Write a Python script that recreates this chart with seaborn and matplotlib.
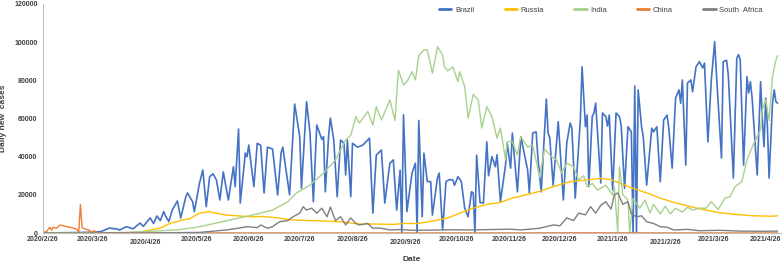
import matplotlib
matplotlib.use("Agg")
import matplotlib.pyplot as plt
import matplotlib.dates as mdates
from matplotlib.ticker import FuncFormatter
import seaborn as sns
import pandas as pd

START = "2020-02-26"

brazil_day = [0, 18, 28, 34, 39, 44, 45, 49, 53, 57, 59, 63, 65, 67, 69, 71, 72, 74, 76, 79,
              81, 84, 85, 88, 89, 92, 94, 96, 98, 100, 102, 104, 106, 109, 112, 113, 115, 116, 119, 120,
              121, 124, 126, 128, 130, 132, 135, 138, 140, 141, 145, 148, 151, 152, 155, 157, 159, 161, 164, 165,
              166, 168, 169, 171, 173, 175, 177, 178, 179, 181, 182, 185, 188, 192, 194, 196, 199, 201, 204, 206,
              208, 210, 211, 212, 214, 217, 219, 220, 221, 223, 224, 226, 228, 229, 232, 233, 235, 237, 239, 241,
              242, 244, 246, 248, 250, 252, 253, 254, 255, 257, 259, 261, 262, 264, 266, 267, 269, 272, 273, 275,
              276, 279, 281, 285, 286, 288, 290, 291, 293, 296, 297, 298, 300, 302, 303, 304, 306, 308, 310, 311,
              313, 316, 317, 319, 320, 321, 323, 324, 325, 328, 329, 331, 332, 333, 335, 337, 339, 340, 342, 344,
              346, 347, 348, 349, 350, 352, 353, 355, 358, 359, 361, 363, 365, 367, 368, 370, 372, 374, 375, 376,
              378, 379, 381, 382, 384, 386, 388, 389, 391, 393, 395, 396, 399, 400, 402, 403, 406, 408, 409, 410,
              412, 414, 415, 416, 417, 420, 422, 423, 424, 425, 426, 427, 429, 430, 431, 432]
brazil_cases = [0, 200, 400, 700, 2600, 2000, 1500, 3300, 2200, 5200, 3500, 7900, 5000, 8900, 6500, 11200, 9000, 6000, 12000, 16800,
                7900, 19000, 21000, 16400, 11200, 26000, 33000, 13800, 29500, 31000, 27800, 17300, 32000, 17300, 34700, 24300, 54500, 15700, 41900, 40000,
                46100, 24300, 47000, 46000, 21000, 45000, 44000, 19900, 41900, 45000, 20000, 67600, 50300, 23500, 68800, 52400, 16400, 56600, 49000, 50500,
                21600, 51300, 60200, 48700, 19000, 48700, 47000, 30400, 48700, 19000, 47000, 45000, 46000, 49700, 10400, 40800, 43500, 15700, 36600, 38300,
                12000, 33000, 0, 62000, 11200, 31400, 36600, 0, 59000, 8500, 41900, 27000, 26900, 9400, 29000, 31400, 1600, 27000, 28000, 27800,
                25000, 29500, 27000, 13000, 8500, 21600, 21000, 0, 40800, 16000, 15700, 47800, 30000, 40000, 34700, 41000, 16400, 35600, 47000, 34000,
                52400, 21600, 50500, 33000, 21000, 52400, 53000, 40000, 21600, 70200, 52400, 50000, 25100, 47000, 58300, 45000, 17300, 47000, 57600, 55000,
                18300, 59200, 87100, 55700, 61800, 24300, 61000, 63000, 68100, 26200, 62900, 61000, 56000, 61800, 22500, 62900, 61000, 56600, 23400, 55700,
                53000, 0, 77000, 0, 75000, 55700, 50500, 25100, 55000, 53000, 55700, 26900, 59200, 61800, 55000, 34000, 70700, 75000, 68000, 80200,
                35600, 78600, 80200, 74000, 87000, 89800, 86500, 89000, 47800, 80000, 100300, 83800, 39300, 89800, 90500, 82800, 28800, 91500, 93500, 90700,
                35600, 81900, 73400, 79300, 71000, 30400, 79300, 60000, 45200, 70700, 56000, 28800, 68100, 75000, 68800, 68000]

russia_day = [0, 50, 57, 69, 75, 79, 81, 86, 92, 98, 101, 107, 114, 122, 129, 138, 147, 157, 167, 176,
              186, 196, 206, 212, 220, 229, 238, 245, 253, 261, 269, 276, 281, 291, 300, 310, 320, 328, 334, 339,
              347, 355, 363, 371, 379, 388, 398, 408, 418, 428, 432]
russia_cases = [0, 0, 500, 2600, 5200, 5900, 6800, 7300, 10400, 11200, 10500, 9500, 9000, 8500, 8700, 7900, 6800, 6500, 6200, 5800,
                4700, 4700, 4500, 5000, 5000, 6200, 7900, 10400, 13000, 15000, 16000, 18300, 19300, 21600, 24300, 26900, 27800, 28600, 28000, 26200,
                23400, 21000, 18300, 16000, 14200, 12300, 10600, 9700, 9000, 8800, 9000]

india_day = [0, 40, 60, 79, 92, 110, 128, 131, 135, 144, 149, 157, 165, 172, 178, 181, 184, 186, 191, 194,
             196, 199, 204, 207, 209, 212, 214, 217, 219, 221, 224, 226, 229, 232, 235, 236, 238, 241, 244, 245,
             248, 250, 253, 256, 258, 261, 264, 267, 269, 272, 273, 276, 279, 281, 285, 288, 292, 295, 299, 302,
             305, 308, 312, 315, 318, 320, 323, 326, 331, 335, 336, 338, 339, 341, 344, 345, 347, 351, 354, 357,
             359, 363, 366, 369, 372, 376, 379, 382, 386, 390, 393, 397, 401, 404, 407, 411, 414, 418, 422, 423,
             425, 427, 429, 431, 432]
india_cases = [0, 0, 800, 1600, 3300, 6800, 10400, 11200, 12000, 16400, 21000, 25100, 31400, 38300, 48700, 51300, 61000, 57600, 63700, 56600,
               66200, 59200, 69700, 59000, 85400, 77600, 79300, 84500, 80200, 93000, 95900, 95900, 83800, 97600, 93300, 87100, 85000, 87000, 79300, 84500,
               76700, 60200, 72600, 69700, 55000, 66200, 61000, 49700, 55000, 38300, 47800, 48000, 40800, 50500, 45000, 46000, 29500, 44000, 40000, 38300,
               31400, 36600, 34700, 27800, 30000, 24300, 26000, 22500, 25000, 19900, 24000, 0, 34700, 20000, 17300, 0, 18000, 13000, 17300, 10600,
               15000, 10000, 14000, 10000, 13000, 11000, 13500, 12000, 13000, 13000, 16400, 12300, 18200, 19000, 24300, 27000, 38300, 47000, 54000, 64500,
               70000, 59000, 82000, 90700, 93000]

china_day = [0, 2, 4, 5, 6, 8, 10, 12, 14, 17, 20, 21, 22, 23, 25, 27, 29, 30, 32, 40,
             80, 140, 200, 260, 320, 380, 432]
china_cases = [400, 700, 3000, 1500, 3000, 2500, 4200, 3800, 3300, 2800, 1900, 100, 15000, 2800, 2000, 1500, 300, 1200, 100, 80,
               40, 30, 20, 30, 100, 30, 20]

safrica_day = [0, 60, 92, 108, 114, 120, 126, 128, 132, 135, 139, 144, 147, 151, 153, 155, 158, 161, 164, 167,
               169, 172, 175, 178, 181, 184, 186, 191, 194, 198, 204, 210, 218, 228, 239, 251, 263, 275, 281, 292,
               300, 304, 308, 312, 315, 319, 322, 325, 328, 331, 334, 336, 338, 341, 344, 346, 349, 352, 355, 359,
               363, 367, 371, 379, 386, 398, 410, 422, 432]
safrica_cases = [0, 0, 300, 1600, 2400, 3300, 2800, 4200, 2500, 3300, 5900, 6500, 8500, 10400, 13800, 12000, 13000, 10400, 13000, 8500,
                 13600, 6500, 8500, 4200, 7900, 5000, 4200, 5000, 2500, 2600, 1600, 1800, 1400, 1500, 1700, 1600, 1800, 2000, 1600, 2500,
                 4200, 3800, 7900, 6500, 10400, 9500, 13800, 10400, 14500, 16400, 12500, 20000, 21000, 15000, 16400, 10000, 8500, 9000, 5900, 5000,
                 3300, 3000, 1600, 1900, 1200, 1400, 1000, 900, 1000]

countries = ["Brazil", "Russia", "India", "China", "South  Africa"]
colors = ["#4472C4", "#FFC000", "#A9D18E", "#ED7D31", "#7F7F7F"]
y_ticks = [0, 20000, 40000, 60000, 80000, 100000, 120000]

series = [(brazil_day, brazil_cases), (russia_day, russia_cases), (india_day, india_cases),
          (china_day, china_cases), (safrica_day, safrica_cases)]
frames = []
start = pd.Timestamp(START)
for name, (d, v) in zip(countries, series):
    frames.append(pd.DataFrame({"date": start + pd.to_timedelta(d, unit="D"),
                                "cases": v, "country": name}))
df = pd.concat(frames, ignore_index=True)

sns.set_theme(style="white")
plt.rcParams["font.family"] = ["Liberation Sans", "DejaVu Sans"]

fig = plt.figure(figsize=(7.84, 2.65), dpi=100)
ax = fig.add_axes([43 / 784, 1 - 233 / 265, 738 / 784, 229 / 265])

sns.lineplot(data=df, x="date", y="cases", hue="country", hue_order=countries,
             palette=dict(zip(countries, colors)), estimator=None, linewidth=1.0, ax=ax)
for line in ax.get_lines():
    if line.get_color().lower() == "#4472c4":
        line.set_linewidth(1.2)

ax.set_xlim(start, start + pd.Timedelta(days=434))
ax.set_ylim(0, 120000)
ax.set_yticks(y_ticks)
ax.xaxis.set_major_locator(mdates.MonthLocator(bymonthday=26))
ax.xaxis.set_major_formatter(FuncFormatter(
    lambda x, pos: (lambda d: f"{d.year}/{d.month}/{d.day}")(mdates.num2date(x))))

for s in ["top", "right"]:
    ax.spines[s].set_visible(False)
for s in ["left", "bottom"]:
    ax.spines[s].set_color("#BFBFBF")
    ax.spines[s].set_linewidth(0.8)

ax.tick_params(axis="both", length=0, labelsize=5, colors="#404040")
ax.tick_params(axis="y", pad=4)
ax.tick_params(axis="x", pad=2.5)
for lab in ax.get_xticklabels() + ax.get_yticklabels():
    lab.set_fontweight("bold")
stagger = {"2020/4/26", "2020/9/26", "2021/2/26"}
fig.canvas.draw()
for tick in ax.xaxis.get_major_ticks():
    if tick.label1.get_text() in stagger:
        tick.set_pad(4.5)

ax.set_xlabel("Date", fontsize=6, fontweight="bold", color="#404040", labelpad=7)
ax.set_ylabel("Daily new  cases", fontsize=6, fontweight="bold", color="#404040", labelpad=5)

handles, labels = ax.get_legend_handles_labels()
for h in handles:
    h.set_linewidth(2)
ax.legend(handles, labels, loc="center", bbox_to_anchor=(0.756, 0.973), ncol=5, frameon=False,
          fontsize=5.5, handlelength=1.6, handletextpad=0.45, columnspacing=4.0,
          labelcolor="#404040")

fig.savefig("out.png", dpi=100)
